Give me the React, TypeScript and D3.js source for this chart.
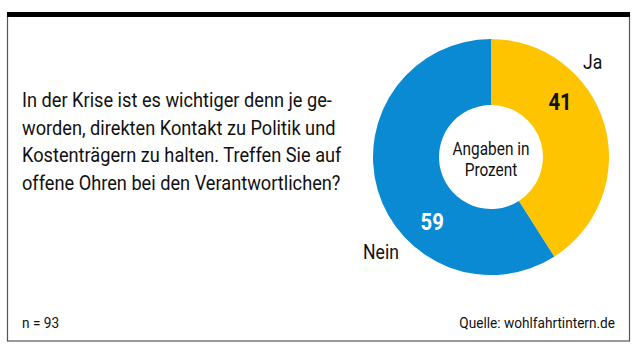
import React from "react";
import * as d3 from "d3";

const categories = ["Ja", "Nein"];
const values = [41, 59];
const colors = ["#FFC400", "#0A8AD2"];
const questionLines = [
  "In der Krise ist es wichtiger denn je ge-",
  "worden, direkten Kontakt zu Politik und",
  "Kostenträgern zu halten. Treffen Sie auf",
  "offene Ohren bei den Verantwortlichen?",
];
const centerLines = ["Angaben in", "Prozent"];
const sampleNote = "n = 93";
const sourceNote = "Quelle: wohlfahrtintern.de";

const FONT = "Roboto, sans-serif";

function T(props: any) {
  const { x, y, anchor, size, weight, fill, children, sx } = props;
  return (
    <g transform={`translate(${x},${y}) scale(${sx || 0.88},1)`}>
      <text
        x={0}
        y={0}
        textAnchor={anchor || "start"}
        fontFamily={FONT}
        fontSize={size}
        fontWeight={weight || "normal"}
        fill={fill || "#111"}
      >
        {children}
      </text>
    </g>
  );
}

export default function App() {
  const W = 637, H = 359;
  const cx = 491, cy = 157, R = 118, r = 52;
  const pie = d3.pie<number>().sort(null).value((d) => d)(values);
  const arc = d3.arc<d3.PieArcDatum<number>>().innerRadius(r).outerRadius(R);
  const labelR = 88;
  const outerLabelPos = [
    [92, -95],
    [-110, 95],
  ];
  return (
    <svg width={W} height={H} style={{ position: "absolute", left: 0, top: 0 }}>
      <rect x={0} y={0} width={W} height={H} fill="#fff" />
      <rect x={7.5} y={14} width={622} height={327} fill="#fff" stroke="#555" strokeWidth={1.2} />
      <rect x={7} y={12} width={623} height={5} fill="#000" />
      {questionLines.map((t, i) => (
        <T key={i} x={22} y={107 + i * 27.7} size={20} sx={0.91}>
          {t}
        </T>
      ))}
      <g transform={`translate(${cx},${cy})`}>
        {pie.map((p, i) => (
          <path key={i} d={arc(p) || ""} fill={colors[i]} />
        ))}
        {pie.map((p, i) => {
          const a = p.startAngle + 0.35 * (p.endAngle - p.startAngle);
          const x = labelR * Math.sin(a);
          const y = -labelR * Math.cos(a);
          return (
            <T key={"v" + i} x={x} y={y + 8} anchor="middle" weight="bold" size={23} fill={i === 0 ? "#111" : "#fff"}>
              {values[i]}
            </T>
          );
        })}
        {categories.map((c, i) => (
          <T key={"c" + i} x={outerLabelPos[i][0]} y={outerLabelPos[i][1] + 7} anchor={i === 0 ? "start" : "middle"} size={20}>
            {c}
          </T>
        ))}
        {centerLines.map((t, i) => (
          <T key={"t" + i} x={0} y={-2 + i * 21} anchor="middle" size={17.5}>
            {t}
          </T>
        ))}
      </g>
      <T x={22} y={328} size={15.5}>
        {sampleNote}
      </T>
      <T x={615} y={328} anchor="end" size={15.5}>
        {sourceNote}
      </T>
    </svg>
  );
}
